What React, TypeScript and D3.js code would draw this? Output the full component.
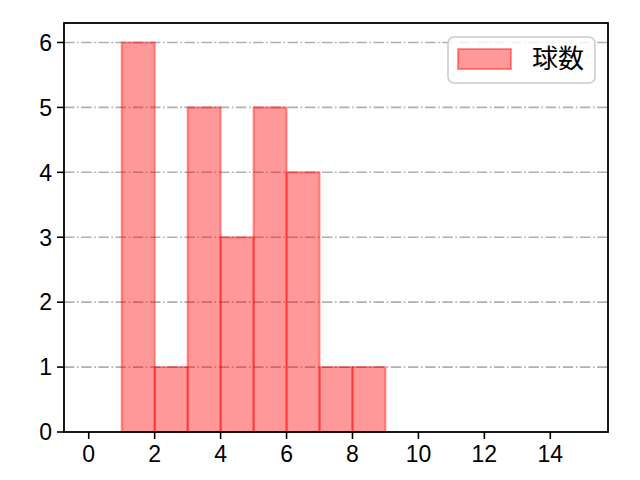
import React from "react";
import * as d3 from "d3";

const binStarts = [1, 2, 3, 4, 5, 6, 7, 8];
const counts = [6, 1, 5, 3, 5, 4, 1, 1];
const binWidth = 1;
const xTicks = [0, 2, 4, 6, 8, 10, 12, 14];
const yTicks = [0, 1, 2, 3, 4, 5, 6];
const legendLabel = "球数";

const W = 640, H = 480;
const L = 64, R = 608, T = 23, B = 432;
const FONT = "'Liberation Sans', 'Noto Sans CJK JP', sans-serif";
const CJK = "'Noto Sans CJK JP', sans-serif";

export default function App() {
  const x = d3.scaleLinear().domain([-0.75, 15.75]).range([L, R]);
  const y = d3.scaleLinear().domain([0, 6.3]).range([B, T]);
  return (
    <svg width={W} height={H} style={{ position: "absolute", left: 0, top: 0 }}>
      <rect x={0} y={0} width={W} height={H} fill="white" />
      {yTicks.filter((t) => t > 0).map((t) => (
        <line key={"g" + t} x1={L} x2={R} y1={y(t)} y2={y(t)} stroke="#b0b0b0" strokeWidth={1.6} strokeDasharray="10.4,2.6,1.6,2.6" />
      ))}
      {binStarts.map((s, i) => (
        <rect key={"b" + i} x={x(s)} y={y(counts[i])} width={x(s + binWidth) - x(s)} height={y(0) - y(counts[i])}
          fill="red" fillOpacity={0.4} stroke="red" strokeOpacity={0.4} strokeWidth={2} />
      ))}
      <rect x={L} y={T} width={R - L} height={B - T} fill="none" stroke="black" strokeWidth={1.8} />
      {xTicks.map((t) => (
        <g key={"x" + t}>
          <line x1={x(t)} x2={x(t)} y1={B} y2={B + 7} stroke="black" strokeWidth={1.6} />
          <text x={x(t)} y={B + 30} textAnchor="middle" fontFamily={FONT} fontSize={23} fill="black">{t}</text>
        </g>
      ))}
      {yTicks.map((t) => (
        <g key={"y" + t}>
          <line x1={L - 7} x2={L} y1={y(t)} y2={y(t)} stroke="black" strokeWidth={1.6} />
          <text x={L - 12} y={y(t)} dy="0.36em" textAnchor="end" fontFamily={FONT} fontSize={23} fill="black">{t}</text>
        </g>
      ))}
      <rect x={448} y={37} width={147} height={46} rx={6} fill="white" fillOpacity={0.8} stroke="#cccccc" strokeWidth={1.6} />
      <rect x={458} y={49} width={53} height={20} fill="red" fillOpacity={0.4} stroke="red" strokeOpacity={0.4} strokeWidth={2} />
      <text x={532} y={59} dy="0.36em" fontFamily={CJK} fontSize={26} fill="black">{legendLabel}</text>
    </svg>
  );
}
